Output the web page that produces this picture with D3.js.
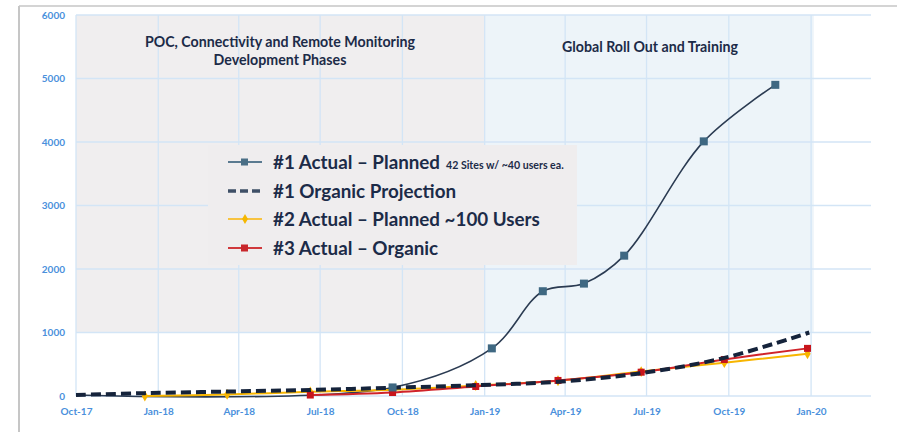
<!DOCTYPE html>
<html>
<head>
<meta charset="utf-8">
<script src="https://cdn.jsdelivr.net/npm/d3@7"></script>
<style>
  body { margin: 0; background: #ffffff; }
  svg { display: block; }
</style>
</head>
<body>
<div class="chart"></div>
<script>
// ************************ DATA ************************

// axis ticks
const xTickLabels = ["Oct-17", "Jan-18", "Apr-18", "Jul-18", "Oct-18", "Jan-19", "Apr-19", "Jul-19", "Oct-19", "Jan-20"]
const yTicks = [0, 1000, 2000, 3000, 4000, 5000, 6000]

// #1 Actual - Planned
const plannedDates = ["2017-10-01", "2018-09-20", "2019-01-09", "2019-03-07", "2019-04-22", "2019-06-06", "2019-09-03", "2019-11-22"]
const plannedValues = [15, 135, 750, 1650, 1770, 2210, 4010, 4900]

// #1 Organic Projection
const organicDates = ["2017-10-01", "2017-12-17", "2018-03-19", "2018-06-20", "2018-09-20", "2018-12-22", "2019-03-24", "2019-06-25", "2019-09-26", "2019-12-30"]
const organicValues = [15, 45, 70, 95, 130, 170, 225, 360, 600, 1000]

// #2 Actual - Planned ~100 Users
const usersDates = ["2017-12-17", "2018-03-19", "2018-06-20", "2018-09-20", "2018-12-22", "2019-03-24", "2019-06-25", "2019-09-26", "2019-12-28"]
const usersValues = [0, 25, 65, 100, 165, 240, 385, 525, 665]

// #3 Actual - Organic
const actualDates = ["2018-06-20", "2018-09-20", "2018-12-22", "2019-03-24", "2019-06-25", "2019-09-26", "2019-12-28"]
const actualValues = [15, 55, 150, 245, 375, 575, 750]

// phases shown as shaded blocks
const phaseStarts = ["2017-10-01", "2019-01-01"]
const phaseEnds = ["2019-01-01", "2020-01-04"]
const phaseLabels = [["POC, Connectivity and Remote Monitoring", "Development Phases"], ["Global Roll Out and Training"]]
const phaseLow = 1000

// ************************ LAYOUT ************************

const width = 897
const height = 432
const margin = { top: 15, right: 26, bottom: 36, left: 76 }

const parseDay = d3.timeParse("%Y-%m-%d")
const parseTick = d3.timeParse("%b-%y")

const navy = "#1c2b48"
const tickBlue = "#4a90dc"
const gridBlue = "#d3e5f6"

// ************************ SCALES ************************

const xScale = d3.scaleTime()
  .domain([parseDay("2017-10-01"), parseDay("2020-03-08")])
  .range([margin.left, width - margin.right])

const yScale = d3.scaleLinear()
  .domain([0, 6000])
  .range([height - margin.bottom, margin.top])

const svg = d3.select(".chart")
  .append("svg")
  .attr("width", width)
  .attr("height", height)
  .style("font-family", "Lato, 'Open Sans', sans-serif")

// frame lines
svg.append("line")
  .attr("x1", 19).attr("x2", width)
  .attr("y1", 6).attr("y2", 6)
  .attr("stroke", "#c6c6c6")
  .attr("stroke-width", 1.5)
svg.append("line")
  .attr("x1", 19).attr("x2", 19)
  .attr("y1", 6).attr("y2", height)
  .attr("stroke", "#c6c6c6")
  .attr("stroke-width", 2)

// phase backgrounds
const phaseFills = ["#f0eeef", "#edf4f9"]
phaseStarts.forEach((s, i) => {
  svg.append("rect")
    .attr("x", xScale(parseDay(s)))
    .attr("y", yScale(6000))
    .attr("width", xScale(parseDay(phaseEnds[i])) - xScale(parseDay(s)))
    .attr("height", yScale(phaseLow) - yScale(6000))
    .attr("fill", phaseFills[i])
})

// horizontal gridlines
svg.append("g")
  .selectAll("line")
  .data(yTicks)
  .enter()
  .append("line")
  .attr("x1", margin.left)
  .attr("x2", width - margin.right)
  .attr("y1", (d) => yScale(d))
  .attr("y2", (d) => yScale(d))
  .attr("stroke", gridBlue)
  .attr("stroke-width", 1.3)

// vertical gridlines
const xTickDates = xTickLabels.map((t) => parseTick(t))
svg.append("g")
  .selectAll("line")
  .data(xTickDates)
  .enter()
  .append("line")
  .attr("x1", (d) => xScale(d))
  .attr("x2", (d) => xScale(d))
  .attr("y1", yScale(6000))
  .attr("y2", yScale(0))
  .attr("stroke", gridBlue)
  .attr("stroke-width", 1.3)

// phase labels
phaseLabels.forEach((lines, i) => {
  const cx = i === 0 ? 280 : 650
  const y0 = i === 0 ? 47 : 52
  lines.forEach((l, j) => {
    svg.append("text")
      .attr("x", cx)
      .attr("y", y0 + j * 18)
      .attr("text-anchor", "middle")
      .attr("fill", navy)
      .style("font-size", "14.2px")
      .style("font-weight", "bold")
      .text(l)
  })
})

// x-axis
const xAxis = d3.axisBottom(xScale)
  .tickValues(xTickDates)
  .tickFormat(d3.timeFormat("%b-%y"))
  .tickSize(0)
  .tickPadding(12)
const gx = svg.append("g")
  .attr("transform", "translate(0," + yScale(0) + ")")
  .call(xAxis)
gx.select(".domain").remove()
gx.selectAll("text")
  .attr("fill", tickBlue)
  .style("font-size", "10px")
  .style("font-weight", "bold")
  .style("font-family", "Lato, sans-serif")

// y-axis
const yAxis = d3.axisLeft(yScale)
  .tickValues(yTicks)
  .tickFormat(d3.format("d"))
  .tickSize(0)
  .tickPadding(11)
const gy = svg.append("g")
  .attr("transform", "translate(" + margin.left + ",0)")
  .call(yAxis)
gy.select(".domain").remove()
gy.selectAll("text")
  .attr("fill", tickBlue)
  .style("font-size", "10px")
  .style("font-weight", "bold")
  .style("font-family", "Lato, sans-serif")

// ************************ LEGEND BOX ************************

svg.append("rect")
  .attr("x", 208)
  .attr("y", 145)
  .attr("width", 369)
  .attr("height", 120)
  .attr("fill", "#efedee")

// ************************ SERIES ************************

const toPoints = (dates, values) => dates.map((d, i) => [parseDay(d), values[i]])

const lineGen = d3.line()
  .x((d) => xScale(d[0]))
  .y((d) => yScale(d[1]))

const planned = toPoints(plannedDates, plannedValues)
const organic = toPoints(organicDates, organicValues)
const users = toPoints(usersDates, usersValues)
const actual = toPoints(actualDates, actualValues)

// #1 actual planned line
svg.append("path")
  .datum(planned)
  .attr("fill", "none")
  .attr("stroke", "#2b3b52")
  .attr("stroke-width", 1.6)
  .attr("d", lineGen.curve(d3.curveCatmullRom.alpha(0.5)))

// #2 users line
svg.append("path")
  .datum(users)
  .attr("fill", "none")
  .attr("stroke", "#f7b500")
  .attr("stroke-width", 2)
  .attr("d", lineGen.curve(d3.curveCatmullRom.alpha(0.5)))

// #3 actual organic line
svg.append("path")
  .datum(actual)
  .attr("fill", "none")
  .attr("stroke", "#d0232a")
  .attr("stroke-width", 2)
  .attr("d", lineGen.curve(d3.curveCatmullRom.alpha(0.5)))

// yellow diamonds
svg.append("g")
  .selectAll("path")
  .data(users)
  .enter()
  .append("path")
  .attr("d", d3.symbol(d3.symbolDiamond, 34))
  .attr("transform", (d) => "translate(" + xScale(d[0]) + "," + yScale(d[1]) + ")")
  .attr("fill", "#f7b500")

// red squares
svg.append("g")
  .selectAll("rect")
  .data(actual)
  .enter()
  .append("rect")
  .attr("x", (d) => xScale(d[0]) - 3.5)
  .attr("y", (d) => yScale(d[1]) - 3.5)
  .attr("width", 7)
  .attr("height", 7)
  .attr("fill", "#c8151b")

// organic projection dashed
svg.append("path")
  .datum(organic)
  .attr("fill", "none")
  .attr("stroke", "#15233b")
  .attr("stroke-width", 4)
  .attr("stroke-dasharray", "10,5")
  .attr("d", lineGen.curve(d3.curveCatmullRom.alpha(0.5)))

// #1 planned squares (first point has no marker)
svg.append("g")
  .selectAll("rect")
  .data(planned.slice(1))
  .enter()
  .append("rect")
  .attr("x", (d) => xScale(d[0]) - 4)
  .attr("y", (d) => yScale(d[1]) - 4)
  .attr("width", 8)
  .attr("height", 8)
  .attr("fill", "#3f6882")

// ************************ LEGEND ENTRIES ************************

const legendNames = ["#1 Actual \u2013 Planned", "#1 Organic Projection", "#2 Actual \u2013 Planned ~100 Users", "#3 Actual \u2013 Organic"]
const legendColors = ["#5a7a90", "#3e4f66", "#f7c340", "#d0393c"]
const legendY = [162, 191, 219, 248]

legendNames.forEach((name, i) => {
  const y = legendY[i]
  const line = svg.append("line")
    .attr("x1", 228).attr("x2", 262)
    .attr("y1", y).attr("y2", y)
    .attr("stroke", legendColors[i])
    .attr("stroke-width", i === 1 ? 3.5 : 1.8)
  if (i === 1) line.attr("stroke-dasharray", "8,4")
  if (i === 0) {
    svg.append("rect").attr("x", 241).attr("y", y - 3.5).attr("width", 7).attr("height", 7).attr("fill", "#4a6f86")
  } else if (i === 2) {
    svg.append("path").attr("d", d3.symbol(d3.symbolDiamond, 30))
      .attr("transform", "translate(245," + y + ")").attr("fill", "#f5b700")
  } else if (i === 3) {
    svg.append("rect").attr("x", 241).attr("y", y - 3.5).attr("width", 7).attr("height", 7).attr("fill", "#c8262b")
  }
  const t = svg.append("text")
    .attr("x", 273)
    .attr("y", y + 6.5)
    .attr("fill", navy)
    .style("font-size", "18.8px")
    .style("font-weight", "bold")
    .text(name)
  if (i === 0) {
    t.append("tspan")
      .attr("dx", 6)
      .style("font-size", "10.6px")
      .text("42 Sites w/ ~40 users ea.")
  }
})
</script>
</body>
</html>
